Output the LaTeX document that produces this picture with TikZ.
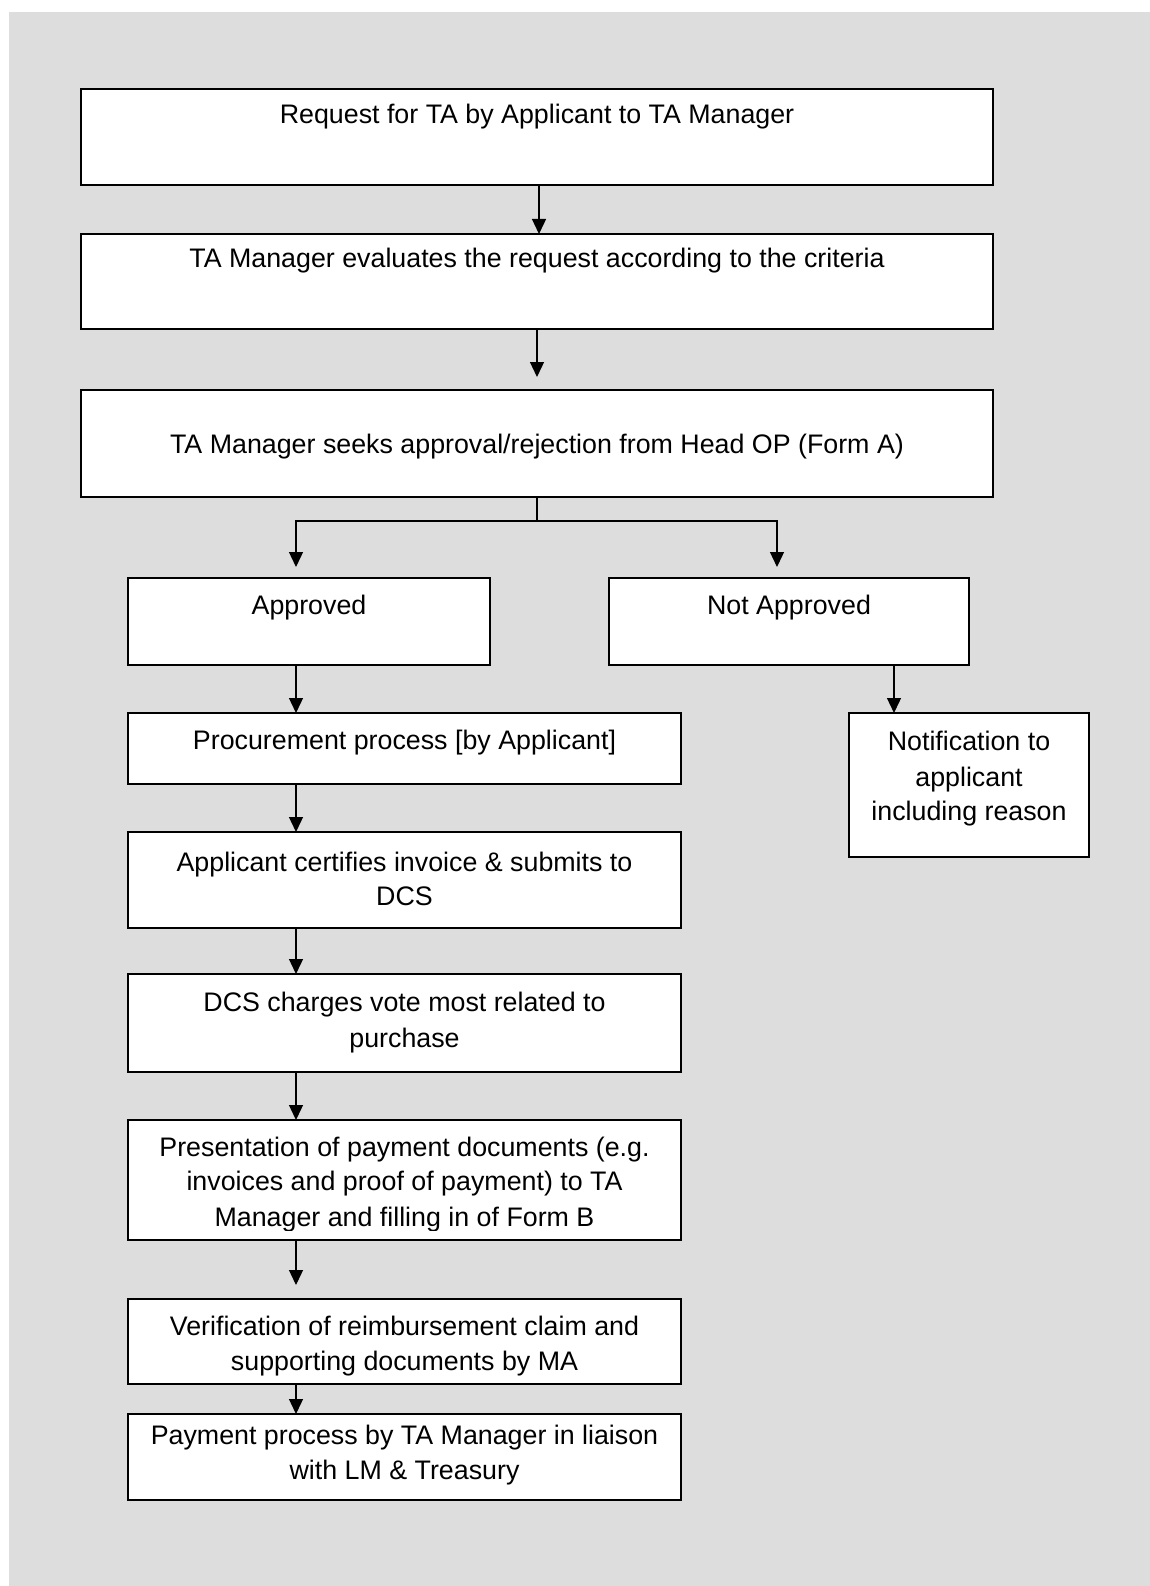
\documentclass[tikz,border=0pt]{standalone}
\usepackage{fontspec}
\setmainfont{Liberation Sans}
\usetikzlibrary{arrows.meta}
\definecolor{bggray}{HTML}{DDDDDD}
\begin{document}
\begin{tikzpicture}[x=1pt,y=-1pt,
 box/.style={draw=black,line width=2pt,fill=white,inner sep=0pt,outer sep=0pt,anchor=north west},
 txt/.style={anchor=base,inner sep=0pt,font=\fontsize{26.8}{34}\selectfont},
 arr/.style={line width=1.3pt,-{Triangle[length=15pt,width=14pt]}},
 ln/.style={line width=1.3pt}]
\useasboundingbox (0,0) rectangle (1150,1586);
\fill[bggray] (9,12) rectangle (1150,1586);
% boxes
\node[box,minimum width=912pt,minimum height=96pt] (b1) at (81,89) {};
\node[box,minimum width=912pt,minimum height=95pt] (b2) at (81,234) {};
\node[box,minimum width=912pt,minimum height=107pt] (b3) at (81,390) {};
\node[box,minimum width=362pt,minimum height=87pt] (ap) at (128,578) {};
\node[box,minimum width=360pt,minimum height=87pt] (na) at (609,578) {};
\node[box,minimum width=553pt,minimum height=71pt] (p1) at (128,713) {};
\node[box,minimum width=553pt,minimum height=96pt] (p2) at (128,832) {};
\node[box,minimum width=553pt,minimum height=98pt] (p3) at (128,974) {};
\node[box,minimum width=553pt,minimum height=120pt] (p4) at (128,1120) {};
\node[box,minimum width=553pt,minimum height=85pt] (p5) at (128,1299) {};
\node[box,minimum width=553pt,minimum height=86pt] (p6) at (128,1414) {};
\node[box,minimum width=240pt,minimum height=144pt] (nt) at (849,713) {};
% texts
\node[txt] (t1) at (537,124) {Request for TA by Applicant to TA Manager};
\node[txt] (t2) at (537,268) {TA Manager evaluates the request according to the criteria};
\node[txt] (t3) at (537,453) {TA Manager seeks approval/rejection from Head OP (Form A)};
\node[txt] (tap) at (309,614) {Approved};
\node[txt] (tna) at (789,614) {Not Approved};
\node[txt] (tp1) at (404.5,749) {Procurement process [by Applicant]};
\node[txt] (tp2a) at (404.5,871) {Applicant certifies invoice \& submits to};
\node[txt] (tp2b) at (404.5,905) {DCS};
\node[txt] (tp3a) at (404.5,1011) {DCS charges vote most related to};
\node[txt] (tp3b) at (404.5,1047) {purchase};
\begin{scope}
\clip (128,1120) rectangle (681,1230);
\node[txt] (tp4a) at (404.5,1156) {Presentation of payment documents (e.g.};
\node[txt] (tp4b) at (404.5,1190) {invoices and proof of payment) to TA};
\node[txt] (tp4c) at (404.5,1226) {Manager and filling in of Form B};
\end{scope}
\node[txt] (tp5a) at (404.5,1335) {Verification of reimbursement claim and};
\node[txt] (tp5b) at (404.5,1370) {supporting documents by MA};
\node[txt] (tp6a) at (404.5,1444) {Payment process by TA Manager in liaison};
\node[txt] (tp6b) at (404.5,1479) {with LM \& Treasury};
\node[txt] (tnta) at (969,750) {Notification to};
\node[txt] (tntb) at (969,786) {applicant};
\node[txt] (tntc) at (969,820) {including reason};
% connectors
\coordinate (cx) at (296,0);
\coordinate (cx2) at (894,0);
\coordinate (e2) at (537,377);
\coordinate (j) at (537,521);
\coordinate (tl) at (296,567);
\coordinate (tr) at (777,567);
\coordinate (e4) at (296,1285);
\draw[arr] ([xshift=2pt]b1.south) -- ([xshift=2pt]b2.north);
\draw[arr] (b2.south) -- (e2);
\draw[ln] (b3.south) -- (j);
\draw[arr] (j) -| (tl);
\draw[arr] (j) -| (tr);
\draw[arr] (ap.south -| cx) -- (p1.north -| cx);
\draw[arr] (p1.south -| cx) -- (p2.north -| cx);
\draw[arr] (p2.south -| cx) -- (p3.north -| cx);
\draw[arr] (p3.south -| cx) -- (p4.north -| cx);
\draw[arr] (p4.south -| cx) -- (e4);
\draw[arr] (p5.south -| cx) -- (p6.north -| cx);
\draw[arr] (na.south -| cx2) -- (nt.north -| cx2);
\end{tikzpicture}
\end{document}
